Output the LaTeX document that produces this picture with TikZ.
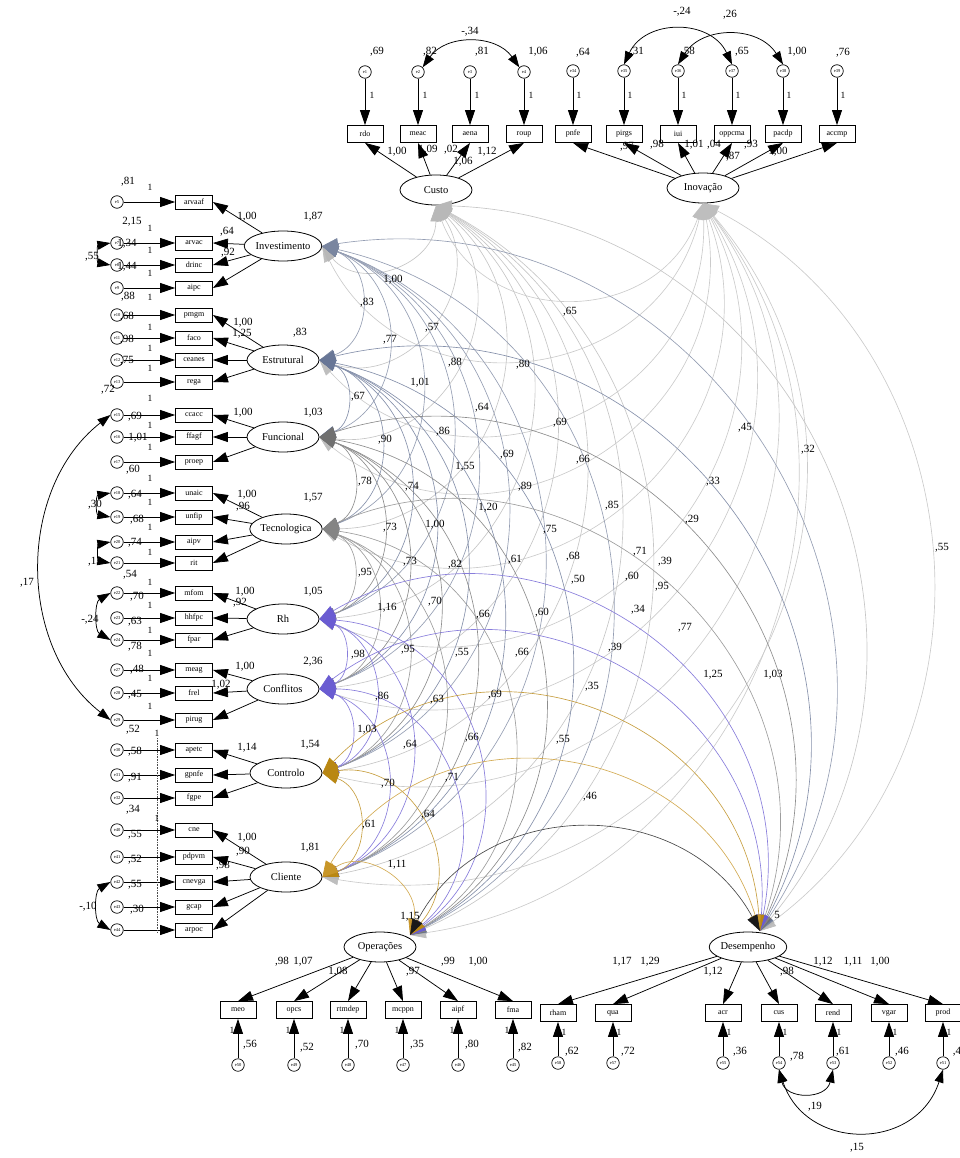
\documentclass[tikz,border=0pt]{standalone}
\usepackage{fontspec}
\setmainfont{Liberation Serif}
\usetikzlibrary{arrows.meta,shapes.geometric}

% colours of the covariance arcs, by the factor they start from
\definecolor{cIn}{RGB}{190,190,190}
\definecolor{cCu}{RGB}{184,184,184}
\definecolor{cIv}{RGB}{122,134,160}
\definecolor{cEs}{RGB}{104,118,150}
\definecolor{cFu}{RGB}{112,112,112}
\definecolor{cTe}{RGB}{132,132,132}
\definecolor{cRh}{RGB}{106,92,210}
\definecolor{cCo}{RGB}{106,92,210}
\definecolor{cCt}{RGB}{185,135,18}
\definecolor{cCl}{RGB}{200,150,40}
\definecolor{cOp}{RGB}{25,25,25}

\tikzset{
  lat/.style={ellipse,draw,line width=0.8pt,fill=white,minimum width=72pt,minimum height=30pt,inner sep=0pt,font=\fontsize{10.5}{11}\selectfont},
  ind/.style={rectangle,draw,line width=0.8pt,fill=white,minimum width=36pt,minimum height=17pt,inner sep=0pt,font=\fontsize{8}{8}\selectfont},
  indl/.style={ind,minimum width=37pt,minimum height=14pt},
  err/.style={circle,draw,line width=0.7pt,fill=white,minimum size=12.5pt,inner sep=0pt,font=\fontsize{4.5}{5}\selectfont},
  num/.style={inner sep=0pt,font=\fontsize{11}{11}\selectfont},
  one/.style={inner sep=0pt,font=\fontsize{9.5}{10}\selectfont},
  reg/.style={-{Triangle[length=15pt,width=10pt]},line width=0.75pt},
  ecov/.style={{Triangle[length=13pt,width=9pt]}-{Triangle[length=13pt,width=9pt]},line width=0.75pt},
  cv/.style={{Triangle[length=16pt,width=11pt,color=#1]}-{Triangle[length=16pt,width=11pt,color=#1]},line width=0.65pt,draw=#1!80},
  arcb/.style={bend left=70,looseness=1.27}
}
\newcommand\nl[3]{\node[num] (t#2x#3) at (#2,#3) {#1};}
\newcommand\nn[2]{\node[one] (o#1x#2) at (#1,#2) {1};}

\begin{document}
\begin{tikzpicture}[x=1pt,y=-1pt]
\useasboundingbox (0,0) rectangle (959,1158);

% latent factors
\node[lat] (Cu) at (436,190) {Custo};
\node[lat] (In) at (703,188) {Inovação};
\node[lat] (Iv) at (283,246) {Investimento};
\node[lat] (Es) at (283,360) {Estrutural};
\node[lat] (Fu) at (283,437) {Funcional};
\node[lat] (Te) at (286,529) {Tecnologica};
\node[lat] (Rh) at (283,619) {Rh};
\node[lat] (Co) at (283,689) {Conflitos};
\node[lat] (Ct) at (286,773) {Controlo};
\node[lat] (Cl) at (286,877) {Cliente};
\node[lat] (Op) at (380,947) {Operações};
\node[lat] (De) at (748,947) {Desempenho};
\coordinate (OpT) at ([shift={(30,-12)}]Op.center);
\coordinate (DeT) at ([shift={(12,-16)}]De.center);

% covariances between the factors
\draw[cv=cIn] (In.south) to[arcb] (Cu.south);
\foreach \b in {Iv,Es,Fu,Te,Rh,Co,Ct,Cl} \draw[cv=cIn] (In.south) to[arcb] (\b.east);
\draw[cv=cIn] (In.south) to[bend left=60,looseness=1.1] (OpT);
\draw[cv=cIn] (In.south) to[bend left=58,looseness=1.1] (DeT);
\foreach \b in {Iv,Es,Fu,Te,Rh,Co,Ct,Cl} \draw[cv=cCu] (Cu.south) to[arcb] (\b.east);
\draw[cv=cCu] (Cu.south) to[bend left=64,looseness=1.18] (OpT);
\draw[cv=cCu] (Cu.south) to[bend left=64,looseness=1.18] (DeT);
\foreach \a/\bs/\c in {Iv/{Es,Fu,Te,Rh,Co,Ct,Cl}/cIv, Es/{Fu,Te,Rh,Co,Ct,Cl}/cEs, Fu/{Te,Rh,Co,Ct,Cl}/cFu, Te/{Rh,Co,Ct,Cl}/cTe, Rh/{Co,Ct,Cl}/cRh, Co/{Ct,Cl}/cCo, Ct/{Cl}/cCt}{
  \foreach \b in \bs \draw[cv=\c] (\a.east) to[arcb] (\b.east);
  \draw[cv=\c] (\a.east) to[arcb] (OpT);
  \draw[cv=\c] (\a.east) to[bend left=66,looseness=1.2] (DeT);
}
\draw[cv=cCl] (Cl.east) to[arcb] (OpT);
\draw[cv=cCl] (Cl.east) to[bend left=66,looseness=1.2] (DeT);
\draw[cv=cOp] (OpT) to[bend left=62,looseness=1.15] (DeT);

% Custo indicators
\foreach \n/\x/\e in {rdo/365/e1, meac/418/e2, aena/470/e3, roup/524/e4}{
  \node[ind] (\n) at (\x,134) {\n};
  \node[err] (\e) at (\x,72) {\e};
  \draw[reg] (\e) -- (\n);
  \draw[reg] (Cu) -- (\n.south);
  \nn{\x+7}{95}
}
% Inovacao indicators
\foreach \n/\x/\e in {pnfe/573/e34, pirgs/624/e35, iui/678/e36, oppcma/732/e37, pacdp/783/e38, accmp/837/e39}{
  \node[ind] (\n) at (\x,134) {\n};
  \node[err] (\e) at (\x,71) {\e};
  \draw[reg] (\e) -- (\n);
  \draw[reg] (In) -- (\n.south);
  \nn{\x+6}{95}
}
% left-hand indicators
\foreach \n/\y/\e/\l in {arvaaf/202/e5/Iv, arvac/243/e7/Iv, drinc/265/e8/Iv, aipc/288/e9/Iv,
  pmgm/315/e10/Es, faco/338/e11/Es, ceanes/360/e12/Es, rega/382/e13/Es,
  ccacc/415/e15/Fu, ffagf/437/e16/Fu, proep/462/e17/Fu,
  unaic/493/e18/Te, unfip/517/e19/Te, aipv/542/e20/Te, rit/563/e21/Te,
  mfom/593/e22/Rh, hhfpc/618/e23/Rh, fpar/640/e24/Rh,
  meag/670/e27/Co, frel/693/e28/Co, pirug/720/e29/Co,
  apetc/750/e30/Ct, gpnfe/775/e31/Ct, fgpe/798/e32/Ct,
  cne/830/e40/Cl, pdpvm/857/e41/Cl, cnevga/882/e42/Cl, gcap/907/e43/Cl, arpoc/930/e44/Cl}{
  \node[indl] (\n) at (194,\y) {\n};
  \node[err] (\e) at (117,\y) {\e};
  \draw[reg] (\e) -- (\n);
  \draw[reg] (\l) -- (\n.east);
}
% Operacoes indicators
\foreach \n/\x/\e in {meo/238/e50, opcs/294/e49, rtmdep/348/e48, mcppn/403/e47, aipf/458/e46, fma/513/e45}{
  \node[ind] (\n) at (\x,1010) {\n};
  \node[err] (\e) at (\x,1065) {\e};
  \draw[reg] (\e) -- (\n);
  \draw[reg] (Op) -- (\n.north);
  \nn{\x-6}{1030}
}
% Desempenho indicators
\foreach \n/\x/\e in {rham/558/e58, qua/613/e57, acr/723/e55, cus/779/e54, rend/833/e53, vgar/889/e52, prod/943/e51}{
  \node[ind] (\n) at (\x,1013) {\n};
  \node[err] (\e) at (\x,1063) {\e};
  \draw[reg] (\e) -- (\n);
  \draw[reg] (De) -- (\n.north);
  \nn{\x+6}{1032}
}

% covariances between error terms
\draw[ecov] (e2.north east) to[bend left=55,looseness=1.08] (e4.north west);
\draw[ecov] (e35.north) to[bend left=65,looseness=1.2] (e37.north);
\draw[ecov] (e36.north) to[bend left=58,looseness=1.12] (e38.north);
\draw[ecov] (e7.west) to[bend right=80,looseness=1.6] (e8.west);
\draw[ecov] (e18.west) to[bend right=80,looseness=1.6] (e19.west);
\draw[ecov] (e20.west) to[bend right=80,looseness=1.6] (e21.west);
\draw[ecov] (e22.west) to[bend right=60,looseness=1.0] (e24.west);
\draw[ecov] (e42.west) to[bend right=60,looseness=1.0] (e44.west);
\draw[ecov] (e15.west) to[bend right=52,looseness=1.0] (e29.west);
\draw[ecov] (e54.south) to[bend right=77,looseness=1.47] (e53.south);
\draw[ecov] (e54.south) to[bend right=72,looseness=1.35] (e51.south);

% path weights on the error terms
\foreach \y in {187,228,250,273,297,327,348,368,398,425,447,478,502,527,552,582,605,630,653,678,706} {\nn{150}{\y}}
\draw[densely dotted,line width=0.6pt,black!70] (157,738) -- (157,932);
\nn{157}{733}
\nn{157}{818}

% error variances, left
\nl{,81}{128}{182} \nl{2,15}{132}{222} \nl{1,34}{127}{244} \nl{1,44}{127}{267}
\nl{,55}{92}{257} \nl{,88}{128}{297} \nl{,68}{127}{317} \nl{,98}{127}{340}
\nl{,75}{127}{361} \nl{,72}{108}{390} \nl{,69}{135}{417} \nl{1,01}{138}{438}
\nl{,60}{133}{470} \nl{,64}{135}{495} \nl{,30}{95}{505} \nl{,68}{137}{520}
\nl{,74}{135}{543} \nl{,13}{95}{562} \nl{,54}{130}{575} \nl{,70}{137}{597}
\nl{-,24}{90}{620} \nl{,63}{135}{622} \nl{,78}{135}{647} \nl{,48}{137}{670}
\nl{,45}{135}{695} \nl{,52}{133}{730} \nl{,58}{135}{752} \nl{,91}{135}{778}
\nl{,34}{133}{810} \nl{,55}{135}{835} \nl{,52}{135}{860} \nl{,55}{135}{885}
\nl{,30}{137}{910} \nl{-,10}{88}{907} \nl{,17}{27}{583}

% factor variances and loadings, left
\nl{1,87}{313}{217} \nl{1,00}{247}{217} \nl{,64}{227}{232} \nl{,92}{228}{253}
\nl{,83}{300}{333} \nl{1,00}{243}{323} \nl{1,25}{242}{334}
\nl{1,03}{313}{413} \nl{1,00}{243}{413}
\nl{1,57}{313}{498} \nl{1,00}{247}{495} \nl{,96}{243}{507}
\nl{1,05}{313}{592} \nl{1,00}{245}{592} \nl{,92}{240}{603}
\nl{2,36}{313}{662} \nl{1,00}{245}{667} \nl{1,02}{221}{685}
\nl{1,54}{310}{745} \nl{1,14}{247}{748}
\nl{1,81}{310}{848} \nl{1,00}{247}{838} \nl{,90}{243}{852} \nl{,98}{223}{866}

% top blocks
\nl{,69}{377}{52} \nl{,82}{430}{52} \nl{,81}{482}{52} \nl{1,06}{538}{52} \nl{-,34}{470}{32}
\nl{1,00}{397}{152} \nl{1,09}{428}{150} \nl{,02}{451}{150} \nl{1,06}{463}{162} \nl{1,12}{487}{152}
\nl{,64}{583}{53} \nl{,31}{637}{52} \nl{,58}{688}{52} \nl{,65}{742}{52} \nl{1,00}{797}{52} \nl{,76}{843}{53}
\nl{-,24}{682}{12} \nl{,26}{730}{15}
\nl{,97}{627}{147} \nl{,98}{657}{145} \nl{1,01}{694}{145} \nl{,04}{714}{145} \nl{,87}{733}{157} \nl{,93}{751}{145} \nl{1,00}{778}{152}

% bottom blocks
\nl{1,15}{410}{917}
\nl{,98}{282}{962} \nl{1,07}{303}{962} \nl{1,08}{338}{972} \nl{,97}{413}{972} \nl{,99}{448}{962} \nl{1,00}{478}{962}
\nl{,56}{250}{1045} \nl{,52}{307}{1048} \nl{,70}{362}{1045} \nl{,35}{417}{1045} \nl{,80}{472}{1045} \nl{,82}{525}{1048}
\nl{5}{777}{915}
\nl{1,17}{622}{962} \nl{1,29}{650}{962} \nl{1,12}{713}{972} \nl{,98}{787}{972} \nl{1,12}{823}{962} \nl{1,11}{853}{962} \nl{1,00}{880}{962}
\nl{,62}{572}{1052} \nl{,72}{628}{1052} \nl{,36}{740}{1052} \nl{,78}{797}{1057} \nl{,61}{843}{1052} \nl{,46}{902}{1052} \nl{,4}{957}{1052}
\nl{,19}{815}{1107} \nl{,15}{857}{1148}

% covariance estimates between the factors
\nl{,65}{570}{312} \nl{1,00}{393}{280} \nl{,83}{367}{303} \nl{,57}{432}{328}
\nl{,77}{390}{340} \nl{,88}{455}{363} \nl{,80}{523}{365} \nl{1,01}{420}{383}
\nl{,67}{358}{397} \nl{,64}{482}{408} \nl{,69}{560}{423} \nl{,86}{443}{432}
\nl{,90}{385}{440} \nl{,69}{507}{455} \nl{,66}{583}{460} \nl{1,55}{465}{467}
\nl{,78}{365}{482} \nl{,74}{412}{487} \nl{,89}{525}{487} \nl{,85}{612}{506}
\nl{1,20}{488}{508} \nl{,73}{390}{528} \nl{1,00}{435}{525} \nl{,75}{550}{530}
\nl{,73}{410}{562} \nl{,82}{455}{565} \nl{,61}{515}{560} \nl{,68}{573}{557}
\nl{,71}{640}{552} \nl{,95}{365}{573} \nl{,50}{578}{580} \nl{,60}{632}{577}
\nl{1,16}{387}{608} \nl{,70}{435}{602} \nl{,66}{483}{615} \nl{,60}{542}{613}
\nl{,34}{638}{610} \nl{,98}{358}{655} \nl{,95}{408}{650} \nl{,55}{462}{653}
\nl{,66}{522}{653} \nl{,39}{615}{648} \nl{,86}{382}{697} \nl{,63}{437}{700}
\nl{,69}{495}{695} \nl{,35}{592}{687} \nl{1,03}{367}{730} \nl{,64}{410}{745}
\nl{,66}{472}{738} \nl{,55}{563}{740} \nl{,70}{388}{784} \nl{,71}{452}{778}
\nl{,46}{590}{797} \nl{,61}{369}{825} \nl{,64}{428}{815} \nl{1,11}{397}{865}
\nl{,45}{745}{428} \nl{,32}{808}{450} \nl{,33}{713}{482} \nl{,29}{692}{520}
\nl{,39}{665}{562} \nl{,95}{662}{587} \nl{,77}{685}{628} \nl{1,25}{713}{675}
\nl{1,03}{773}{675} \nl{,55}{942}{548}
\end{tikzpicture}
\end{document}
